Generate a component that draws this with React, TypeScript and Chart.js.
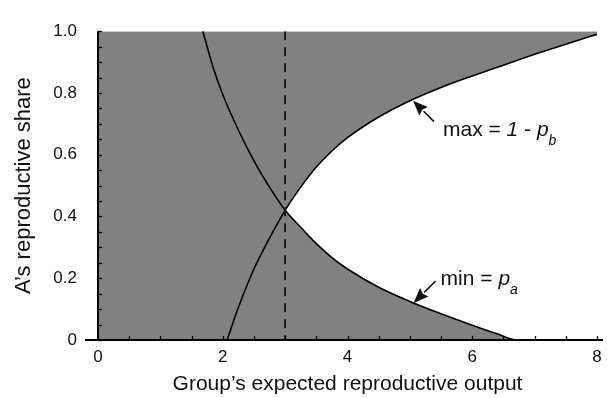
import React, { useEffect, useRef } from 'react';
import { Chart, registerables } from 'chart.js';

Chart.register(...registerables);

// ---- data ----
// min = p_a (decreasing curve)
const minX = [1.68, 1.85, 2.0, 2.25, 2.5, 2.75, 3.0, 3.25, 3.5, 3.75, 4.0, 4.5, 5.0, 5.5, 6.0, 6.4, 6.72, 8.0];
const minY = [1.0, 0.88, 0.795, 0.68, 0.58, 0.495, 0.42, 0.365, 0.312, 0.267, 0.23, 0.171, 0.125, 0.085, 0.048, 0.02, 0, 0];
// max = 1 - p_b (increasing curve)
const maxX = [2.07, 2.25, 2.5, 2.75, 3.0, 3.25, 3.5, 3.75, 4.0, 4.5, 5.0, 5.5, 6.0, 6.5, 7.0, 7.5, 8.0];
const maxY = [0, 0.105, 0.23, 0.33, 0.42, 0.495, 0.56, 0.612, 0.655, 0.722, 0.775, 0.818, 0.855, 0.89, 0.925, 0.958, 0.99];
// shaded region (whole plot) and the dashed divider
const regionX = [0, 8];
const regionTop = [1, 1];
const dividerX = [3, 3];
const dividerY = [1, 0];

const xTickValues = [0, 2, 4, 6, 8];
const xTickLabels = ['0', '2', '4', '6', '8'];
const yTickValues = [0, 0.2, 0.4, 0.6, 0.8, 1.0];
const yTickLabels = ['0', '0.2', '0.4', '0.6', '0.8', '1.0'];
const xMinorStep = 0.5;
const yMinorStep = 0.05;

const xTitle = 'Group’s expected reproductive output';
const yTitle = 'A’s reproductive share';

// annotation: arrow tip in data units on the curve
const notes = [
  { tip: [5.05, 0.775], parts: [['max = ', false, false], ['1', true, false], [' - ', false, false], ['p', true, false], ['b', true, true]], tail: [21, 21], text: [30, 35] },
  { tip: [5.06, 0.12], parts: [['min = ', false, false], ['p', true, false], ['a', true, true]], tail: [22, -22], text: [27, -18] },
];

const FONT = '"Liberation Sans", Arial, Helvetica, sans-serif';
const GRAY = '#818181';

const pts = (xs: number[], ys: number[]) => xs.map((x, i) => ({ x, y: ys[i] }));

const decorPlugin = {
  id: 'decor',
  afterDatasetsDraw(chart: any) {
    const { ctx, chartArea: a, scales } = chart;
    const xs = scales.x;
    const ys = scales.y;
    ctx.save();
    ctx.strokeStyle = '#000';
    ctx.lineWidth = 1.3;
    for (let v = 0; v <= 1 + 1e-9; v += yMinorStep) {
      const py = Math.round(ys.getPixelForValue(v)) + 0.5;
      ctx.beginPath();
      ctx.moveTo(a.left, py);
      ctx.lineTo(a.left + 4, py);
      ctx.stroke();
    }
    for (let v = 0; v <= 8 + 1e-9; v += xMinorStep) {
      const px = Math.round(xs.getPixelForValue(v)) + 0.5;
      ctx.beginPath();
      ctx.moveTo(px, a.bottom);
      ctx.lineTo(px, a.bottom - 4);
      ctx.stroke();
    }
    ctx.lineWidth = 2;
    ctx.beginPath();
    ctx.moveTo(a.left, a.top);
    ctx.lineTo(a.left, a.bottom);
    ctx.stroke();
    ctx.beginPath();
    ctx.moveTo(a.left - 13, a.bottom);
    ctx.lineTo(a.right + 6, a.bottom);
    ctx.stroke();

    // annotations
    ctx.fillStyle = '#111';
    ctx.strokeStyle = '#111';
    for (const n of notes) {
      const tx = xs.getPixelForValue(n.tip[0]);
      const ty = ys.getPixelForValue(n.tip[1]);
      const ex = tx + n.tail[0];
      const ey = ty + n.tail[1];
      const ang = Math.atan2(ty - ey, tx - ex);
      const hl = 15;
      const hw = 6;
      const bx = tx - hl * Math.cos(ang);
      const by = ty - hl * Math.sin(ang);
      ctx.lineWidth = 1.6;
      ctx.beginPath();
      ctx.moveTo(ex, ey);
      ctx.lineTo(bx, by);
      ctx.stroke();
      ctx.beginPath();
      ctx.moveTo(tx, ty);
      ctx.lineTo(bx + hw * Math.sin(ang), by - hw * Math.cos(ang));
      ctx.lineTo(bx + 2 * Math.cos(ang), by + 2 * Math.sin(ang));
      ctx.lineTo(bx - hw * Math.sin(ang), by + hw * Math.cos(ang));
      ctx.closePath();
      ctx.fill();

      let cx = tx + n.text[0];
      const base = ty + n.text[1];
      ctx.textBaseline = 'alphabetic';
      ctx.textAlign = 'left';
      for (const [t, it, sub] of n.parts as any) {
        const size = sub ? 14 : 21;
        ctx.font = `${it ? 'italic ' : ''}${size}px ${FONT}`;
        ctx.fillText(t, cx, sub ? base + 9 : base);
        cx += ctx.measureText(t).width;
      }
    }
    ctx.restore();
  },
};

export default function App() {
  const ref = useRef<HTMLCanvasElement | null>(null);
  useEffect(() => {
    if (!ref.current) return;
    const chart = new Chart(ref.current, {
      type: 'line',
      data: {
        datasets: [
          {
            label: 'dashed',
            data: pts(dividerX, dividerY),
            borderColor: '#111',
            borderWidth: 1.8,
            borderDash: [9, 7],
            pointRadius: 0,
            fill: false,
            order: 1,
          },
          {
            label: 'min = p_a',
            data: pts(minX, minY),
            borderColor: '#000',
            borderWidth: 1.6,
            pointRadius: 0,
            fill: false,
            cubicInterpolationMode: 'monotone',
            order: 2,
          },
          {
            label: 'max = 1 - p_b',
            data: pts(maxX, maxY),
            borderColor: '#000',
            borderWidth: 1.6,
            pointRadius: 0,
            cubicInterpolationMode: 'monotone',
            fill: { target: 1, above: '#ffffff', below: 'rgba(0,0,0,0)' },
            order: 3,
          },
          {
            label: 'region',
            data: pts(regionX, regionTop),
            borderWidth: 0,
            borderColor: 'rgba(0,0,0,0)',
            backgroundColor: GRAY,
            pointRadius: 0,
            fill: 'origin',
            order: 10,
          },
        ],
      },
      options: {
        responsive: false,
        animation: false,
        events: [],
        layout: { padding: { left: 0, right: 14, top: 16, bottom: 0 } },
        plugins: {
          legend: { display: false },
          tooltip: { enabled: false },
        },
        scales: {
          x: {
            type: 'linear',
            min: 0,
            max: 8,
            grid: { display: false, drawTicks: false },
            border: { display: false },
            afterBuildTicks: (s: any) => {
              s.ticks = xTickValues.map((v) => ({ value: v }));
            },
            afterFit: (s: any) => {
              s.height = 58;
            },
            ticks: {
              padding: 7,
              color: '#111',
              font: { family: FONT, size: 17 },
              maxRotation: 0,
              callback: (v: any) => xTickLabels[xTickValues.indexOf(Number(v))] ?? '',
            },
            title: {
              display: true,
              text: xTitle,
              color: '#111',
              font: { family: FONT, size: 21 },
              padding: { top: 0, bottom: 1 },
            },
          },
          y: {
            type: 'linear',
            min: 0,
            max: 1,
            grid: { display: false, drawTicks: false },
            border: { display: false },
            afterBuildTicks: (s: any) => {
              s.ticks = yTickValues.map((v) => ({ value: v }));
            },
            afterFit: (s: any) => {
              s.width = 98;
            },
            ticks: {
              padding: 21,
              color: '#111',
              font: { family: FONT, size: 17 },
              callback: (v: any) => {
                const i = yTickValues.findIndex((t) => Math.abs(t - Number(v)) < 1e-9);
                return i >= 0 ? yTickLabels[i] : '';
              },
            },
            title: {
              display: true,
              text: yTitle,
              color: '#111',
              font: { family: FONT, size: 22 },
              padding: { top: 11, bottom: 0 },
            },
          },
        },
      },
      plugins: [decorPlugin],
    } as any);
    return () => chart.destroy();
  }, []);
  return (
    <div style={{ position: 'fixed', left: 0, top: 0, width: 611, height: 398, background: '#fff' }}>
      <canvas ref={ref} width={611} height={398} style={{ display: 'block' }} />
    </div>
  );
}
